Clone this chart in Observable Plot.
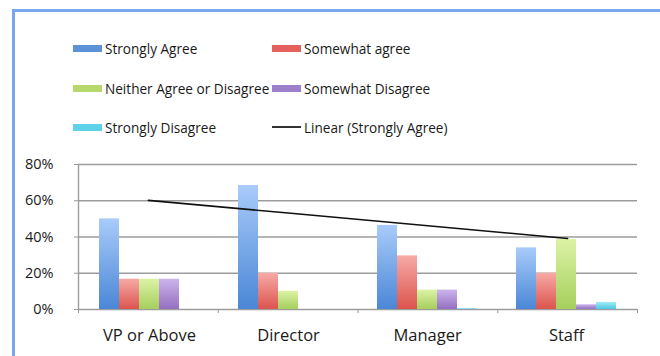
<!DOCTYPE html>
<html>
<head>
<meta charset="utf-8">
<script src="https://cdn.jsdelivr.net/npm/d3@7"></script>
<script src="https://cdn.jsdelivr.net/npm/@observablehq/plot@0.6"></script>
<style>
  html, body { margin: 0; padding: 0; background: #fff; }
  #wrap { position: relative; width: 660px; height: 356px; overflow: hidden; font-family: "Open Sans", sans-serif; }
  #frame { position: absolute; left: 12px; top: 9px; width: 700px; height: 400px; border-left: 3px solid #7ba6f0; border-top: 3px solid #7ba6f0; box-sizing: border-box; }
  .layer { position: absolute; left: 0; top: 150px; }
  .legend-item { position: absolute; display: flex; align-items: center; font-size: 13.6px; color: #1a1a1a; white-space: nowrap; }
  .sw { width: 29px; height: 7px; margin-right: 3px; }
  .swline { width: 29px; height: 0; border-top: 2px solid #333; margin-right: 3px; }
  svg g[aria-label="y-axis tick"] path, svg g[aria-label="x-axis tick"] path { stroke: #999; }
</style>
</head>
<body>
<div id="wrap">
  <div id="frame"></div>
  <svg width="0" height="0" style="position:absolute">
    <defs id="grads"></defs>
  </svg>
  <div id="legend"></div>
  <div id="layerA" class="layer"></div>
  <div id="layerB" class="layer"></div>
  <div id="layerC" class="layer"></div>
</div>
<script>
// ---- data ----
const categories = ["VP or Above", "Director", "Manager", "Staff"];
const series = ["Strongly Agree", "Somewhat agree", "Neither Agree or Disagree", "Somewhat Disagree", "Strongly Disagree"];
const stronglyAgree    = [50, 68.4, 46.4, 34];
const somewhatAgree    = [16.7, 20, 29.6, 20];
const neitherAgree     = [16.7, 10, 10.7, 38.6];
const somewhatDisagree = [16.7, 0, 10.7, 2.6];
const stronglyDisagree = [0, 0, 0.5, 3.9];
const yTicks = [0, 20, 40, 60, 80];
const trendLabel = "Linear (Strongly Agree)";

// ---- styles ----
const gradStops = [
  ["#a9cbfa", "#4a87d6"],
  ["#f7aaa6", "#dc544e"],
  ["#dcf2a6", "#a6cf5c"],
  ["#ccb4ec", "#9470c0"],
  ["#a6ecf6", "#4cc6e0"]
];
const swatchColors = ["#5d91d8", "#e4615c", "#b6d86c", "#9c80cc", "#5ed2e8"];

const defs = document.getElementById("grads");
defs.innerHTML = gradStops.map((s, i) =>
  `<linearGradient id="g${i}" x1="0" y1="0" x2="0" y2="1">
     <stop offset="0" stop-color="${s[0]}"/><stop offset="1" stop-color="${s[1]}"/>
   </linearGradient>`).join("");

const allValues = [stronglyAgree, somewhatAgree, neitherAgree, somewhatDisagree, stronglyDisagree];
const data = [];
categories.forEach((c, ci) => series.forEach((s, si) => data.push({category: c, series: s, value: allValues[si][ci]})));

// linear trendline of Strongly Agree (Excel-style least squares over category index)
const idx = categories.map((c, i) => i + 1);
const mx = d3.mean(idx), my = d3.mean(stronglyAgree);
const slope = d3.sum(idx, (x, i) => (x - mx) * (stronglyAgree[i] - my)) / d3.sum(idx, x => (x - mx) ** 2);
const trend = categories.map((c, i) => ({pos: i + 0.5, value: my + slope * (idx[i] - mx)}));

const W = 660, H = 206;
const margins = {marginTop: 14, marginBottom: 47, marginLeft: 78, marginRight: 23};
const font = {fontFamily: "Open Sans, sans-serif", fontSize: "14.5px", color: "#1a1a1a", background: "transparent", overflow: "visible"};

// Layer A: grid, axes, category boundary ticks
const A = Plot.plot({
  width: W, height: H, ...margins,
  style: font,
  x: {domain: [0, categories.length], ticks: d3.range(categories.length + 1), tickSize: 4, tickFormat: () => "", label: null},
  y: {domain: [0, 80], ticks: yTicks, tickFormat: d => d + "%", tickSize: 4, tickPadding: 21, label: null},
  marks: [
    Plot.ruleY(yTicks, {stroke: "#9c9c9c", strokeWidth: 1.4}),
    Plot.ruleX([0], {stroke: "#9c9c9c", strokeWidth: 1.4})
  ]
});
document.getElementById("layerA").appendChild(A);

// Layer B: grouped bars
const B = Plot.plot({
  width: W, height: H, ...margins,
  style: {...font, fontSize: "16.5px"},
  fx: {domain: categories, paddingInner: 0.25, paddingOuter: 0.125, label: null, tickSize: 0, tickPadding: 20},
  x: {domain: series, padding: 0, axis: null},
  y: {domain: [0, 80], axis: null},
  color: {domain: series, range: series.map((s, i) => `url(#g${i})`)},
  marks: [
    Plot.barY(data, {fx: "category", x: "series", y: "value", fill: "series"})
  ]
});
document.getElementById("layerB").appendChild(B);

// Layer C: trend line
const C = Plot.plot({
  width: W, height: H, ...margins,
  style: font,
  x: {domain: [0, categories.length], axis: null},
  y: {domain: [0, 80], axis: null},
  marks: [
    Plot.line(trend, {x: "pos", y: "value", stroke: "#111", strokeWidth: 1.6})
  ]
});
document.getElementById("layerC").appendChild(C);

// Legend
const legend = document.getElementById("legend");
const legendCols = [73, 272];
const legendRows = [48, 88, 127];
const legendEntries = series.map((s, i) => ({label: s, color: swatchColors[i]})).concat([{label: trendLabel, line: true}]);
legendEntries.forEach((e, i) => {
  const el = document.createElement("div");
  el.className = "legend-item";
  el.style.left = legendCols[i % 2] + "px";
  el.style.top = (legendRows[Math.floor(i / 2)] - 10) + "px";
  el.style.height = "20px";
  const sw = document.createElement("span");
  if (e.line) sw.className = "swline";
  else { sw.className = "sw"; sw.style.background = e.color; }
  el.appendChild(sw);
  const t = document.createElement("span");
  t.textContent = e.label;
  el.appendChild(t);
  legend.appendChild(el);
});
</script>
</body>
</html>
